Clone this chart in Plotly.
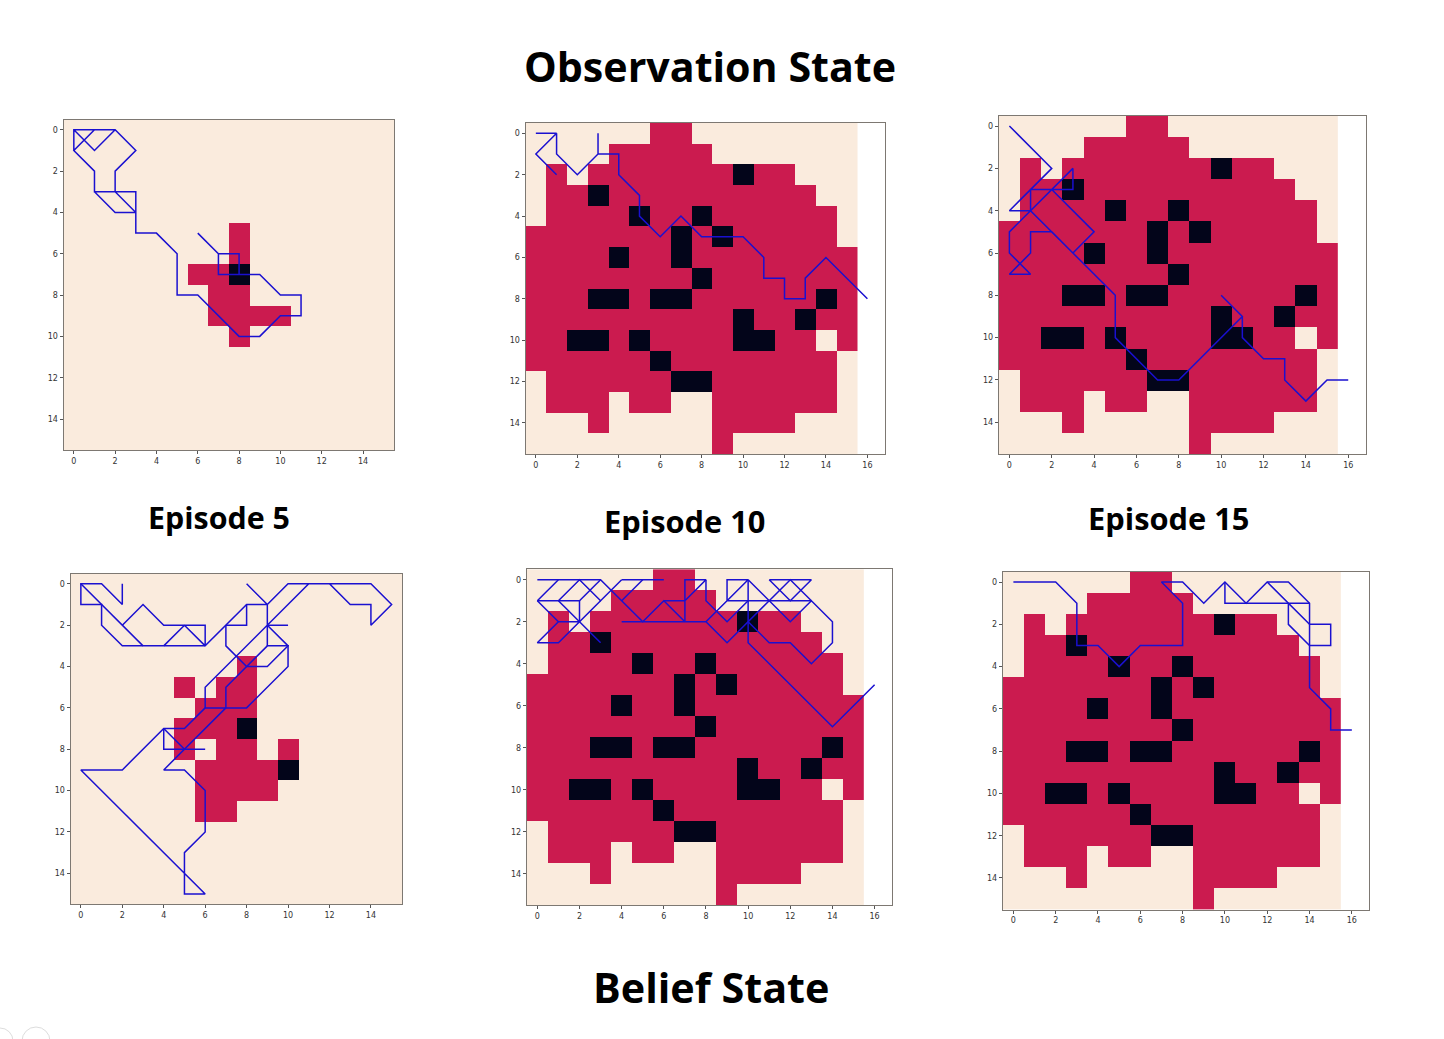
import plotly.graph_objects as go

W, H = 1444, 1039

# 0 = free, 1 = explored, 2 = obstacle
grid_full = [
    "0000001100000000",
    "0000111110000000",
    "0101111111211000",
    "0112111111111100",
    "0111121121111110",
    "1111111212111110",
    "1111211211111111",
    "1111111121111111",
    "1112212211111121",
    "1111111111211211",
    "1122121111221101",
    "1111112111111110",
    "0111111221111110",
    "0111011001111110",
    "0001000001111000",
    "0000000001000000",
]
grid_ep5_obs = [
    "0000000000000000",
    "0000000000000000",
    "0000000000000000",
    "0000000000000000",
    "0000000000000000",
    "0000000010000000",
    "0000000010000000",
    "0000001120000000",
    "0000000110000000",
    "0000000111100000",
    "0000000010000000",
    "0000000000000000",
    "0000000000000000",
    "0000000000000000",
    "0000000000000000",
    "0000000000000000",
]
grid_ep5_bel = [
    "0000000000000000",
    "0000000000000000",
    "0000000000000000",
    "0000000000000000",
    "0000000010000000",
    "0000010110000000",
    "0000001110000000",
    "0000011120000000",
    "0000010110100000",
    "0000001111200000",
    "0000001111000000",
    "0000001100000000",
    "0000000000000000",
    "0000000000000000",
    "0000000000000000",
    "0000000000000000",
]

path_ep5_obs = [
    [(6,5),(7,6),(8,6),(8,7),(7,7),(7,6),(8,6),(8,7),(9,7),(10,8),(11,8),(11,9),(10,9),(9,10),(8,10),
     (6,8),(5,8),(5,6),(4,5),(3,5),(3,4),(2,4),(1,3),(1,2),(0,1),(0,0),(2,0),(3,1),(2,2),(2,3),(3,4),
     (3,3),(1,3),(1,2),(0,1),(1,0),(0,0),(1,1),(2,0)],
]
path_ep10_obs = [
    [(0,0),(1,0),(0,1),(1,2),(0,1),(1,0),(1,1),(2,2),(3,1),(3,0),(3,1),(4,1),(4,2),(5,3),(5,4),(6,5),
     (7,4),(8,5),(10,5),(11,6),(11,7),(12,7),(12,8),(13,8),(13,7),(14,6),(16,8)],
]
path_ep15_obs = [
    [(0,0),(2,2),(0,4),(1,4),(1,3),(3,3),(3,2),(1,4),(0,5),(0,6),(1,7),(0,7),(1,6),(1,5),(2,5),(3,6),
     (4,5),(2,3),(1,4),(5,8),(5,10),(7,12),(8,12),(11,9),(10,8),(11,9),(11,10),(12,11),(13,11),(13,12),
     (14,13),(15,12),(16,12)],
]
path_ep5_bel = [
    [(2,0),(2,1),(1,0),(0,0),(0,1),(1,1),(1,2),(2,3),(6,3),(7,2),(8,1),(9,1),(8,0)],
    [(0,0),(3,3)],
    [(2,2),(3,1),(4,2),(6,2),(6,3),(5,2),(4,3)],
    [(7,2),(8,2),(8,1)],
    [(7,2),(7,3),(8,4),(9,4),(10,3),(9,2),(10,2)],
    [(9,1),(10,0),(12,0),(13,1),(14,1),(14,2),(15,1),(14,0),(11,0),(6,5),(6,6),(8,6),(10,4),(10,3),(9,3),(9,1)],
    [(9,3),(7,5),(7,6),(4,9),(5,9),(6,10),(6,12),(5,13),(5,15),(6,15),(0,9),(2,9),(4,7),(5,7),(6,6)],
    [(4,7),(4,8),(6,8)],
    [(4,7),(5,8)],
]
path_ep10_bel = [
    [(0,0),(3,0),(5,2),(6,1),(7,2)],
    [(4,0),(6,0)],
    [(0,1),(1,0)],
    [(1,1),(2,0),(3,1),(4,0)],
    [(2,1),(3,0)],
    [(0,1),(2,1),(2,2)],
    [(3,1),(1,3),(0,3),(1,2),(2,2)],
    [(0,1),(1,2)],
    [(1,1),(3,3)],
    [(4,1),(5,0)],
    [(6,1),(7,1),(8,0),(7,0),(7,2)],
    [(4,2),(8,2),(9,3),(11,1)],
    [(8,0),(8,1),(9,2),(10,1)],
    [(8,2),(9,1),(9,0),(10,0),(9,1),(13,1)],
    [(10,0),(12,2),(13,1),(14,2),(14,3),(13,4),(12,3),(11,3),(10,2)],
    [(10,0),(10,3),(14,7),(16,5)],
    [(11,1),(12,0),(13,1)],
    [(11,0),(13,0),(12,1),(11,0)],
]
path_ep15_bel = [
    [(0,0),(2,0),(3,1),(3,3),(4,3),(5,4),(6,3),(8,3),(8,1),(7,0),(8,0),(9,1),(10,0),(11,1),(12,0),(13,0),
     (14,1),(14,5),(15,6),(15,7),(16,7)],
    [(10,0),(10,1),(14,1)],
    [(12,0),(14,2),(15,2),(15,3),(14,3),(13,2),(13,1)],
]

tick_vals = [0, 2, 4, 6, 8, 10, 12, 14, 16]

titles = [
    ("Observation State", 709.5, 66, 41.2),
    ("Belief State", 711, 987, 41.3),
    ("Episode 5", 218.5, 517.5, 30.4),
    ("Episode 10", 684, 520.5, 30.8),
    ("Episode 15", 1168, 517.5, 30.8),
]

# grid, path, frame in pixels (left, right, top, bottom), x upper limit
panels = [
    (grid_ep5_obs, path_ep5_obs, (63.5, 394, 119.5, 450), 15.5),
    (grid_full, path_ep10_obs, (525.5, 884.5, 123, 454), 16.825),
    (grid_full, path_ep15_obs, (998.8, 1365.7, 115.5, 454), 16.825),
    (grid_ep5_bel, path_ep5_bel, (70.5, 402, 573.5, 904.3), 15.5),
    (grid_full, path_ep10_bel, (526.8, 892, 569.2, 905.3), 16.825),
    (grid_full, path_ep15_bel, (1002.8, 1369.3, 571.5, 909.7), 16.825),
]

BEIGE, CRIMSON, NAVY = "#FAEBDD", "#CB1B4F", "#03051A"
scale = [[0, BEIGE], [1/3, BEIGE], [1/3, CRIMSON], [2/3, CRIMSON], [2/3, NAVY], [1, NAVY]]

fig = go.Figure()
axis_style = dict(
    showgrid=False, zeroline=False, showline=True, mirror=True, linecolor="#7d7872", linewidth=1,
    ticks="outside", ticklen=3, tickwidth=0.8, tickcolor="#555555",
    tickmode="array", tickvals=tick_vals, tickfont=dict(family="DejaVu Sans", size=8, color="#333333"),
)

for i, (grid, path, (l, r, t, b), xmax) in enumerate(panels, start=1):
    suffix = "" if i == 1 else str(i)
    z = [[int(c) for c in row] for row in grid]
    fig.add_trace(go.Heatmap(z=z, x=list(range(16)), y=list(range(16)), zmin=0, zmax=2, colorscale=scale,
                             showscale=False, hoverinfo="skip", xaxis="x" + suffix, yaxis="y" + suffix))
    xs, ys = [], []
    for seg in path:
        xs += [p[0] for p in seg] + [None]
        ys += [p[1] for p in seg] + [None]
    fig.add_trace(go.Scatter(x=xs, y=ys, mode="lines", line=dict(color="#1a10d0", width=1.5),
                             hoverinfo="skip", xaxis="x" + suffix, yaxis="y" + suffix))
    fig.layout["xaxis" + suffix] = dict(axis_style, domain=[l / W, r / W], range=[-0.5, xmax],
                                        anchor="y" + suffix)
    fig.layout["yaxis" + suffix] = dict(axis_style, domain=[1 - b / H, 1 - t / H], range=[15.5, -0.5],
                                        anchor="x" + suffix)

for text, x, y, size in titles:
    fig.add_annotation(text="<b>%s</b>" % text, x=x / W, y=1 - y / H, xref="paper", yref="paper",
                       showarrow=False, xanchor="center", yanchor="middle",
                       font=dict(family="Open Sans", size=size, color="#000000"))

for cx, cy, rad in [(0, 1041, 13), (36, 1041, 14)]:
    fig.add_shape(type="circle", xref="paper", yref="paper", x0=(cx - rad) / W, x1=(cx + rad) / W,
                  y0=1 - (cy + rad) / H, y1=1 - (cy - rad) / H, line=dict(color="#dddddd", width=1))

fig.update_layout(width=W, height=H, margin=dict(l=0, r=0, t=0, b=0), showlegend=False,
                  paper_bgcolor="white", plot_bgcolor="white")

fig.write_html("out.html", config={"displayModeBar": False},
               post_script="document.body.style.margin='0';")
